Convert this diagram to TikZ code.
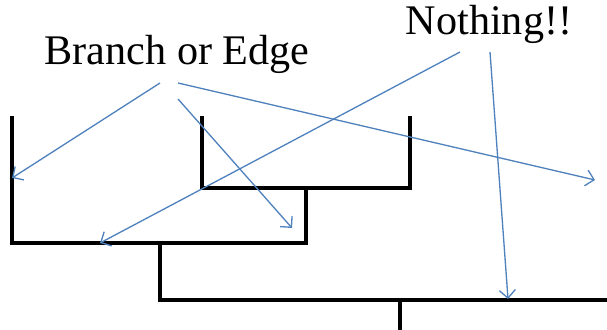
\documentclass[tikz,border=0pt]{standalone}
\usepackage{fontspec}
\setmainfont{Liberation Serif}
\usepackage{xcolor}
\definecolor{cTree}{HTML}{000000}
\definecolor{cNote}{HTML}{4F81BD}
\usepackage{tikz}
\usetikzlibrary{arrows.meta}
\tikzset{
  tree-line/.style={draw=cTree,line width=1.8pt},
  note-text/.style={font=\fontsize{24}{28}\selectfont,inner sep=0pt,anchor=base},
  arrow-note/.style={-{Straight Barb[length=1.6mm,width=3.2mm]},line width=0.75pt,draw=cNote},
}

\begin{document}
\begin{tikzpicture}[x=0.02cm,y=-0.02cm]
  \useasboundingbox (0,0) rectangle (607,330);
  % labels
  \node[note-text] (edge) at (177,65) {Branch or Edge};
  \node[note-text] (nothing) at (489,35) {Nothing!!};
  % tree points
  \coordinate (a-top) at (12,116);
  \coordinate (a-bot) at (12,243);
  \coordinate (ab-right) at (306,243);
  \coordinate (bc-stem) at (306,188);
  \coordinate (b-top) at (202,116);
  \coordinate (b-bot) at (202,188);
  \coordinate (c-bot) at (410,188);
  \coordinate (c-top) at (410,116);
  \coordinate (abc-stem) at (160,243);
  \coordinate (root-left) at (160,300);
  \coordinate (root-right) at (607,300);
  \coordinate (root) at (400,300);
  \coordinate (root-end) at (400,330);
  % tree
  \draw[tree-line] (a-top) -- (a-bot) -- (ab-right) -- (bc-stem);
  \draw[tree-line] (b-top) -- (b-bot) -- (c-bot) -- (c-top);
  \draw[tree-line] (abc-stem) -- (root-left) -- (root-right);
  \draw[tree-line] (root) -- (root-end);
  % arrow ends
  \coordinate (edge-s1) at (160,83);
  \coordinate (edge-s2) at (178,99);
  \coordinate (edge-s3) at (178,83);
  \coordinate (not-s1) at (460,52);
  \coordinate (not-s2) at (490,52);
  \coordinate (on-a) at (12,178);
  \coordinate (on-b) at (292,228);
  \coordinate (on-out) at (595,180);
  \coordinate (on-ab) at (100,243);
  \coordinate (on-root) at (508,299);
  \draw[arrow-note] (edge-s1) -- (on-a);
  \draw[arrow-note] (edge-s2) -- (on-b);
  \draw[arrow-note] (edge-s3) -- (on-out);
  \draw[arrow-note] (not-s1) -- (on-ab);
  \draw[arrow-note] (not-s2) -- (on-root);
\end{tikzpicture}
\end{document}
